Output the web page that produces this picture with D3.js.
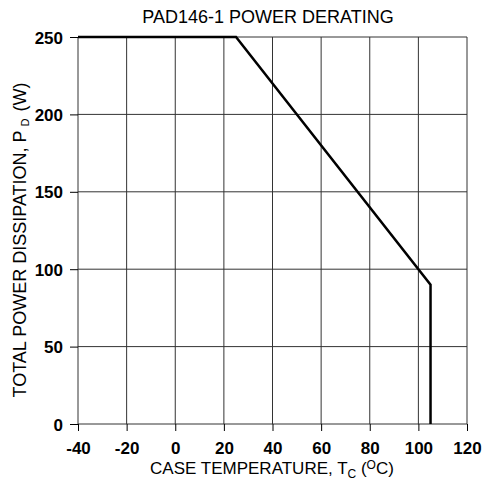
<!DOCTYPE html>
<html>
<head>
<meta charset="utf-8">
<script src="https://cdn.jsdelivr.net/npm/d3@7"></script>
<style>
  body { margin: 0; background: #fff; }
  text { font-family: "Liberation Sans", Arial, sans-serif; fill: #000; }
</style>
</head>
<body>
<script>
// derating curve
var temps = [-40, 25, 105, 105];
var power = [250, 250, 90, 0];
var xTicks = [-40, -20, 0, 20, 40, 60, 80, 100, 120];
var yTicks = [0, 50, 100, 150, 200, 250];

var margin = { top: 37, right: 16, bottom: 59, left: 78 },
  width = 483 - margin.left - margin.right,
  height = 483 - margin.top - margin.bottom;

var svg = d3.select('body').append('svg')
  .attr('width', 483)
  .attr('height', 483);

var g = svg.append('g')
  .attr('transform', 'translate(' + margin.left + ',' + margin.top + ')');

var x = d3.scaleLinear().domain([-40, 120]).range([0, width]);
var y = d3.scaleLinear().domain([0, 250]).range([height, 0]);

// grid
g.selectAll('.vgrid').data(xTicks).enter().append('line')
  .attr('x1', function (d) { return x(d); })
  .attr('x2', function (d) { return x(d); })
  .attr('y1', 0).attr('y2', height)
  .attr('stroke', '#333').attr('stroke-width', 1);

g.selectAll('.hgrid').data(yTicks).enter().append('line')
  .attr('y1', function (d) { return y(d); })
  .attr('y2', function (d) { return y(d); })
  .attr('x1', 0).attr('x2', width)
  .attr('stroke', '#333').attr('stroke-width', 1);

var fmt = function (d) { return String(d); };
var xAxis = d3.axisBottom(x).tickValues(xTicks).tickFormat(fmt).tickSize(7).tickSizeOuter(0);
var yAxis = d3.axisLeft(y).tickValues(yTicks).tickFormat(fmt).tickSize(8).tickSizeOuter(0);

g.append('g')
  .attr('transform', 'translate(0,' + height + ')')
  .call(xAxis)
  .call(function (s) {
    s.select('.domain').remove();
    s.selectAll('line').attr('stroke', '#000');
    s.selectAll('text').attr('y', 30).attr('dy', 0)
      .style('font-size', '17px').style('font-weight', 'bold');
  });

g.append('g')
  .call(yAxis)
  .call(function (s) {
    s.select('.domain').remove();
    s.selectAll('line').attr('stroke', '#000');
    s.selectAll('text').attr('x', -15).attr('dy', '0.36em')
      .style('font-size', '17px').style('font-weight', 'bold');
  });

// curve
var pts = temps.map(function (t, i) { return [t, power[i]]; });
g.append('path')
  .datum(pts)
  .attr('fill', 'none')
  .attr('stroke', '#000')
  .attr('stroke-width', 2.5)
  .attr('d', d3.line().x(function (d) { return x(d[0]); }).y(function (d) { return y(d[1]); }));

// title and labels
svg.append('text')
  .attr('x', 268).attr('y', 23)
  .attr('text-anchor', 'middle')
  .style('font-size', '18px')
  .text('PAD146-1 POWER DERATING');

var xl = svg.append('text')
  .attr('x', 272).attr('y', 474)
  .attr('text-anchor', 'middle')
  .style('font-size', '17px');
xl.append('tspan').text('CASE TEMPERATURE, T');
xl.append('tspan').attr('dy', 4).style('font-size', '12px').text('C');
xl.append('tspan').attr('dy', -4).text(' (');
xl.append('tspan').attr('dy', -5).style('font-size', '12px').text('O');
xl.append('tspan').attr('dy', 5).text('C)');

var yl = svg.append('text')
  .attr('transform', 'translate(26,240) rotate(-90)')
  .attr('text-anchor', 'middle')
  .style('font-size', '18px');
yl.append('tspan').text('TOTAL POWER DISSIPATION, P');
yl.append('tspan').attr('dx', 4).attr('dy', 3).style('font-size', '11px').text('D');
yl.append('tspan').attr('dx', 2).attr('dy', -3).text(' (W)');
</script>
</body>
</html>
